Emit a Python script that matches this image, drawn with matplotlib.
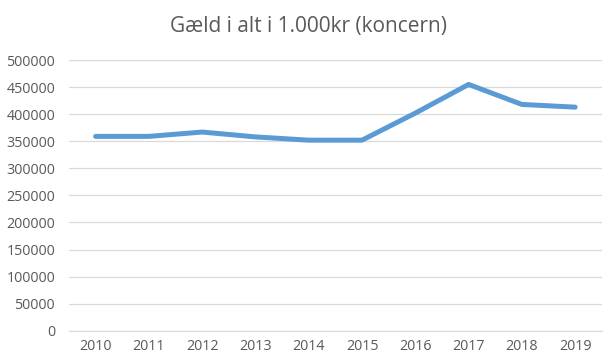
import matplotlib.pyplot as plt

# data
years = ['2010', '2011', '2012', '2013', '2014', '2015', '2016', '2017', '2018', '2019']
debt = [359000, 359000, 367000, 358000, 352000, 352000, 402000, 455000, 418000, 413000]
yticks = list(range(0, 500001, 50000))

plt.rcParams['font.family'] = ['Open Sans', 'DejaVu Sans']

fig = plt.figure(figsize=(6.16, 3.64), dpi=100)
ax = fig.add_axes([0.112, 0.0915, 0.865, 0.7435])

x = range(len(years))
ax.plot(x, debt, color='#5B9BD5', linewidth=3.6, solid_capstyle='round', solid_joinstyle='round', zorder=3)

ax.set_xlim(-0.5, len(years) - 0.5)
ax.set_ylim(0, 500000)
ax.set_yticks(yticks)
ax.set_yticklabels([str(v) for v in yticks])
ax.set_xticks(list(x))
ax.set_xticklabels(years)

ax.grid(axis='y', color='#D9D9D9', linewidth=0.9)
ax.tick_params(axis='both', length=0, labelsize=10.3, colors='#595959')
ax.tick_params(axis='y', pad=10)
ax.tick_params(axis='x', pad=6)
for s in ax.spines.values():
    s.set_visible(False)
ax.spines['bottom'].set_visible(True)
ax.spines['bottom'].set_color('#D9D9D9')

fig.text(0.5, 1 - 32 / 364, 'Gæld i alt i 1.000kr (koncern)', ha='center', va='baseline',
         fontsize=15, color='#595959')

fig.savefig('out.png', dpi=100)
